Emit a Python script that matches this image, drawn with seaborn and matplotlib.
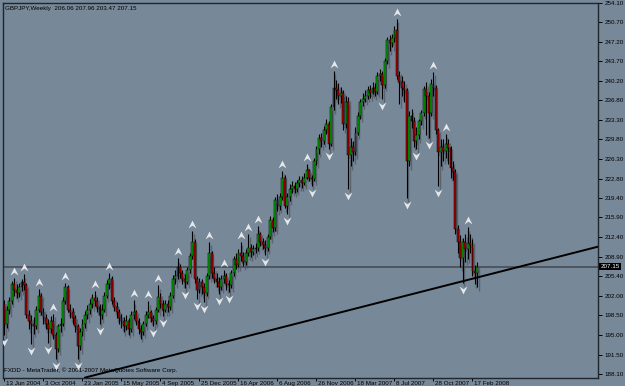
import numpy as np
import pandas as pd
import matplotlib
matplotlib.use("Agg")
import matplotlib.pyplot as plt
import seaborn as sns
from matplotlib.transforms import ScaledTranslation, blended_transform_factory
from matplotlib.path import Path

# ---------------- data ----------------
first_open = 200.5
closes = [197.0, 199.5, 201.0, 204.0, 203.0, 202.5, 203.5, 204.5, 203.8, 198.5,
          197.5, 197.0, 196.5, 199.5, 202.0, 199.0, 198.0, 197.0, 196.0, 197.5,
          195.0, 192.5, 196.5, 197.0, 201.0, 203.5, 199.5, 199.0, 198.0, 196.5,
          193.0, 195.5, 197.0, 198.5, 199.5, 200.5, 201.5, 201.0, 200.0, 198.5,
          199.5, 202.0, 204.0, 205.0, 201.0, 200.0, 199.0, 198.0, 197.5, 196.5,
          197.5, 196.0, 198.5, 199.0, 197.5, 196.0, 195.5, 197.0, 198.5, 199.0,
          198.0, 197.5, 199.5, 201.8, 200.5, 199.5, 200.5, 200.0, 202.0, 205.0,
          205.5, 207.0, 206.0, 205.0, 204.5, 206.5, 209.0, 211.5, 205.0, 203.0,
          204.5, 203.5, 202.5, 205.5, 209.5, 206.0, 205.0, 204.5, 203.5, 205.0,
          205.5, 204.0, 203.8, 206.0, 208.5, 207.5, 209.5, 209.0, 208.0, 209.5,
          210.5, 209.8, 210.2, 210.5, 213.0, 211.5, 211.0, 210.5, 212.5, 215.5,
          214.0, 219.0, 218.0, 219.5, 223.0, 218.0, 219.5, 221.0, 221.5, 221.0,
          222.0, 222.5, 222.0, 223.0, 224.3, 223.0, 222.8, 226.0, 228.0, 230.0,
          229.5, 231.5, 232.5, 229.0, 235.5, 239.0, 238.5, 237.5, 238.0, 232.5,
          236.5, 227.0, 228.5, 227.5, 231.0, 234.0, 236.5, 237.0, 237.5, 238.5,
          238.0, 239.0, 238.2, 241.0, 241.5, 239.4, 243.8, 247.4, 247.0, 247.8,
          249.2, 241.0, 240.0, 239.0, 238.5, 226.0, 234.0, 233.0, 229.5, 230.5,
          233.0, 234.5, 238.8, 237.5, 234.5, 239.7, 239.0, 231.4, 227.5, 228.5,
          227.8, 229.0, 228.2, 224.7, 224.0, 213.8, 211.5, 208.7, 211.5, 210.3,
          211.3, 211.0, 206.3, 206.06, 207.15]
highs = [201.2, 200.2, 201.8, 204.6, 205.2, 204.0, 204.2, 205.0, 205.8, 204.2,
         199.5, 198.5, 198.2, 200.2, 203.2, 202.4, 199.8, 198.8, 197.8, 198.3,
         198.8, 195.6, 197.0, 198.0, 201.8, 204.3, 203.8, 200.5, 199.8, 198.5,
         197.0, 196.2, 197.8, 199.2, 200.3, 201.3, 202.2, 202.8, 201.8, 200.5,
         200.5, 202.6, 204.8, 206.0, 205.4, 201.8, 200.8, 199.6, 198.8, 198.2,
         198.5, 198.0, 199.2, 201.2, 199.5, 198.0, 196.8, 197.5, 199.2, 201.0,
         199.5, 198.6, 200.0, 203.8, 202.5, 201.2, 201.2, 201.2, 202.6, 205.6,
         206.5, 208.6, 207.6, 206.6, 205.8, 207.0, 209.5, 213.5, 212.0, 205.5,
         205.2, 205.0, 204.2, 206.0, 211.6, 210.0, 207.0, 206.0, 205.3, 205.6,
         206.6, 206.0, 204.8, 206.5, 209.0, 209.5, 210.2, 211.6, 209.8, 210.2,
         213.0, 211.2, 211.0, 211.3, 214.3, 213.4, 212.3, 211.8, 213.0, 216.2,
         216.0, 219.6, 220.0, 220.3, 224.2, 223.5, 220.2, 221.8, 222.3, 222.2,
         222.6, 223.2, 223.3, 223.8, 225.5, 224.6, 223.4, 226.5, 228.7, 230.8,
         231.0, 232.2, 233.5, 233.0, 236.0, 242.0, 240.3, 239.8, 239.2, 238.5,
         237.5, 237.3, 230.0, 229.5, 232.0, 234.6, 237.0, 238.0, 238.5, 239.3,
         239.5, 240.0, 239.8, 241.8, 242.3, 242.0, 244.3, 248.0, 248.3, 248.6,
         250.0, 251.3, 242.0, 241.0, 240.2, 239.0, 234.8, 235.2, 233.8, 232.0,
         233.5, 235.0, 239.3, 240.0, 238.3, 240.5, 241.8, 239.5, 231.8, 229.8,
         229.8, 230.8, 229.8, 228.7, 226.0, 224.5, 214.5, 212.8, 212.3, 213.0,
         214.2, 213.0, 212.0, 207.5, 207.96]
lows = [195.0, 196.3, 198.8, 200.5, 202.0, 201.5, 201.8, 202.8, 203.0, 198.0,
        196.0, 193.4, 195.2, 196.0, 199.0, 198.5, 197.0, 196.0, 193.5, 195.3,
        194.3, 190.8, 192.0, 195.5, 196.5, 200.5, 199.0, 198.0, 197.0, 195.5,
        190.8, 192.3, 194.8, 196.3, 197.8, 198.8, 199.8, 200.2, 199.0, 197.0,
        197.8, 199.0, 201.5, 203.2, 200.5, 199.2, 198.0, 197.0, 196.3, 195.5,
        195.8, 195.0, 195.5, 197.8, 196.8, 195.2, 194.3, 195.0, 196.5, 198.0,
        197.3, 196.5, 197.0, 199.0, 199.8, 198.3, 199.0, 199.0, 199.5, 201.5,
        204.0, 205.0, 205.2, 204.0, 203.3, 204.0, 206.0, 208.5, 204.3, 201.3,
        202.5, 202.2, 200.8, 202.0, 205.0, 205.2, 204.2, 203.5, 202.2, 203.0,
        204.3, 203.0, 202.6, 203.3, 205.5, 206.8, 207.0, 208.2, 207.2, 207.5,
        209.0, 208.8, 209.2, 209.5, 210.0, 210.8, 210.2, 209.3, 210.0, 212.0,
        213.3, 213.5, 217.0, 217.3, 219.0, 217.5, 216.6, 218.8, 220.3, 220.2,
        220.5, 221.3, 221.2, 221.6, 222.8, 222.4, 221.5, 222.3, 225.3, 227.2,
        228.5, 229.0, 230.8, 228.0, 228.6, 235.0, 237.0, 236.0, 236.2, 231.5,
        231.8, 221.0, 225.0, 226.0, 227.0, 230.5, 233.5, 235.8, 236.5, 237.0,
        237.2, 237.8, 237.5, 237.8, 240.2, 237.0, 239.0, 243.2, 245.5, 246.2,
        247.2, 240.5, 236.0, 237.5, 236.5, 219.3, 225.0, 231.8, 228.5, 228.0,
        229.8, 232.3, 234.0, 230.5, 230.0, 234.0, 237.5, 230.8, 221.5, 225.0,
        226.0, 226.5, 225.5, 223.0, 222.5, 213.0, 209.5, 207.0, 204.3, 208.0,
        208.5, 209.5, 205.5, 204.0, 203.47]
up_fractals = [4, 8, 14, 20, 25, 37, 43, 53, 59, 63, 71, 77, 84, 90, 97, 100,
               104, 114, 124, 135, 161, 176, 181, 190]
down_fractals = [0, 11, 18, 21, 30, 39, 61, 65, 74, 79, 82, 88, 92, 107, 116,
                 126, 133, 141, 155, 165, 169, 174, 178, 188]
date_labels = ["13 Jun 2004", "3 Oct 2004", "23 Jan 2005", "15 May 2005",
               "4 Sep 2005", "25 Dec 2005", "16 Apr 2006", "6 Aug 2006",
               "26 Nov 2006", "18 Mar 2007", "8 Jul 2007", "28 Oct 2007",
               "17 Feb 2008"]
date_label_bars = [0, 16, 32, 48, 64, 80, 96, 112, 128, 144, 160, 176, 192]
price_ticks = [254.10, 250.70, 247.20, 243.70, 240.20, 236.80, 233.30, 229.80,
               226.30, 222.80, 219.40, 215.90, 212.40, 208.90, 205.40, 202.00,
               198.50, 195.00, 191.50, 188.10]
current_price = 207.15
trend_bars = [33.0, 243.5]
trend_prices = [187.4, 210.7]
title_text = "GBPJPY,Weekly  206.06 207.96 203.47 207.15"
copyright_text = "FXDD - MetaTrader, \u00a9 2001-2007 MetaQuotes Software Corp."

# ---------------- frame ----------------
opens = [first_open] + closes[:-1]
df = pd.DataFrame({"bar": np.arange(len(closes)), "open": opens, "high": highs,
                   "low": lows, "close": closes})
df["bull"] = df["close"] >= df["open"]
df["body_lo"] = df[["open", "close"]].min(axis=1)
df["body_h"] = (df["close"] - df["open"]).abs().clip(lower=0.12)

sns.set_theme(style="ticks")
plt.rcParams["font.family"] = ["Liberation Sans", "DejaVu Sans"]
FS = 4.5

BG = "#778899"
fig = plt.figure(figsize=(6.25, 3.86), dpi=100, facecolor=BG)
ax = fig.add_axes([3 / 625, 8.5 / 386, 595 / 625, 375 / 386])
ax.set_facecolor(BG)

shadow = ax.transData + ScaledTranslation(0.015, -0.035, fig.dpi_scale_trans)
sh_col = "#59646f"

# shadows
ax.vlines(df["bar"], df["low"], df["high"], colors=sh_col, linewidth=1.0,
          transform=shadow, zorder=1)
ax.bar(df["bar"], df["body_h"], bottom=df["body_lo"], width=0.75, color=sh_col,
       linewidth=0, transform=shadow, zorder=1)

# current price line
ax.axhline(current_price, color="#4a525b", linewidth=1.3, zorder=2)

# candles
ax.vlines(df["bar"], df["low"], df["high"], colors="black", linewidth=0.8, zorder=3)
body_cols = np.where(df["bull"], "#00a800", "#b00000")
ax.bar(df["bar"], df["body_h"], bottom=df["body_lo"], width=0.75, color=body_cols,
       edgecolor="black", linewidth=0.35, zorder=4)

# trendline
sns.lineplot(x=trend_bars, y=trend_prices, color="black", linewidth=1.4, ax=ax,
             zorder=5)

# fractal arrows
up_path = Path([(0, 1), (1, -1), (0, -0.3), (-1, -1), (0, 1)],
               [Path.MOVETO, Path.LINETO, Path.LINETO, Path.LINETO, Path.CLOSEPOLY])
dn_path = Path([(0, -1), (1, 1), (0, 0.3), (-1, 1), (0, -1)],
               [Path.MOVETO, Path.LINETO, Path.LINETO, Path.LINETO, Path.CLOSEPOLY])
up_tr = ax.transData + ScaledTranslation(0, 0.07, fig.dpi_scale_trans)
dn_tr = ax.transData + ScaledTranslation(0, -0.07, fig.dpi_scale_trans)
ax.scatter(up_fractals, df.loc[up_fractals, "high"], marker=up_path, s=32,
           color="#e6e8ea", linewidths=0, transform=up_tr, zorder=6)
ax.scatter(down_fractals, df.loc[down_fractals, "low"], marker=dn_path, s=32,
           color="#e6e8ea", linewidths=0, transform=dn_tr, zorder=6)

# axes
ax.set_xlim(-0.6, 243.5)
ax.set_ylim(187.42, 254.15)
ax.set_xlabel("")
ax.set_ylabel("")
for sp in ax.spines.values():
    sp.set_color("#20262c")
    sp.set_linewidth(1.0)

ax.yaxis.tick_right()
ax.set_yticks(price_ticks)
ax.set_yticklabels([f"{v:.2f}" for v in price_ticks])
ax.tick_params(axis="y", direction="out", length=3, width=0.7, colors="black",
               labelsize=FS, pad=1.5)
ax.set_xticks(date_label_bars)
ax.set_xticklabels(date_labels)
ax.tick_params(axis="x", direction="out", length=2, width=0.7, colors="black",
               labelsize=FS, pad=0.2)
for lab in ax.get_xticklabels():
    lab.set_ha("left")
    lab.set_transform(lab.get_transform() + ScaledTranslation(0.015, 0, fig.dpi_scale_trans))

bt = blended_transform_factory(ax.transAxes, ax.transData)
ax.text(1.004, current_price, f"{current_price:.2f}", transform=bt, ha="left",
        va="center", color="white", fontsize=FS, zorder=7, clip_on=False,
        bbox=dict(boxstyle="square,pad=0.15", fc="black", ec="none"))

ax.text(0.003, 0.99, title_text, transform=ax.transAxes, ha="left", va="top",
        fontsize=FS, color="black")
ax.text(0.002, 0.012, copyright_text, transform=ax.transAxes, ha="left",
        va="bottom", fontsize=FS, color="black")

fig.savefig("out.png", dpi=100, facecolor=BG)
